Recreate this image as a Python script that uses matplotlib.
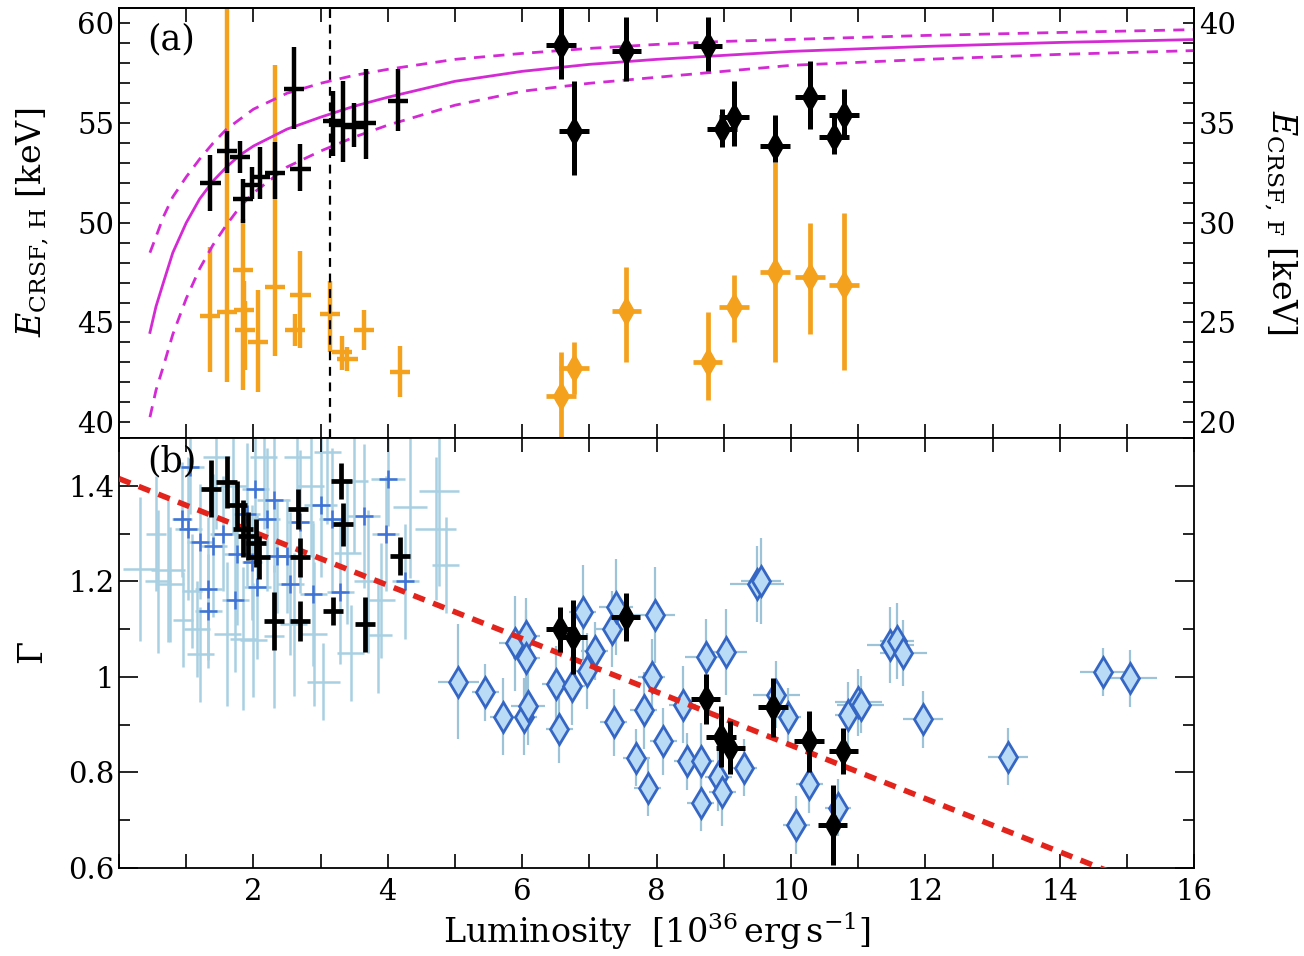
import matplotlib
matplotlib.use('Agg')
import matplotlib.pyplot as plt
from matplotlib.ticker import MultipleLocator, FuncFormatter

plt.rcParams['font.family'] = ['DejaVu Serif']
plt.rcParams['mathtext.fontset'] = 'dejavuserif'

# ---------------- data: panel (a) ----------------
# black, E_CRSF,H (left axis), low luminosity (no markers)
hl_x   = [1.36, 1.61, 1.80, 1.85, 1.98, 2.10, 2.32, 2.60, 2.70, 3.19, 3.34, 3.49, 3.67, 4.15]
hl_E   = [52.0, 53.6, 53.3, 51.2, 51.9, 52.3, 52.5, 56.7, 52.7, 55.1, 54.9, 54.8, 55.0, 56.1]
hl_lo  = [1.4, 1.1, 0.8, 1.2, 0.7, 1.1, 1.3, 2.0, 1.1, 1.75, 1.85, 1.0, 1.8, 1.5]
hl_hi  = [1.4, 1.0, 0.8, 1.0, 0.9, 1.5, 1.55, 2.1, 1.25, 1.5, 2.2, 1.2, 2.7, 1.6]
hl_xe  = [0.15, 0.15, 0.15, 0.15, 0.15, 0.15, 0.15, 0.15, 0.15, 0.15, 0.15, 0.15, 0.15, 0.15]
# black, E_CRSF,H, high luminosity (diamonds)
hh_x   = [6.58, 6.77, 7.55, 8.76, 8.97, 9.15, 9.76, 10.28, 10.64, 10.79]
hh_E   = [58.9, 54.6, 58.6, 58.85, 54.7, 55.3, 53.85, 56.3, 54.3, 55.4]
hh_lo  = [1.7, 2.2, 1.5, 1.25, 0.9, 1.45, 0.8, 1.6, 0.85, 1.2]
hh_hi  = [2.1, 2.5, 1.75, 1.5, 1.0, 1.8, 1.55, 1.8, 1.1, 1.3]
hh_xe  = [0.22, 0.22, 0.22, 0.22, 0.22, 0.22, 0.22, 0.22, 0.22, 0.22]
# orange, E_CRSF,F (right axis), low luminosity
fl_x   = [1.35, 1.61, 1.84, 1.86, 1.88, 2.07, 2.32, 2.62, 2.70, 3.14, 3.32, 3.40, 3.64, 4.18]
fl_E   = [25.3, 25.5, 27.65, 25.6, 24.6, 24.0, 26.8, 24.6, 26.4, 25.4, 23.5, 23.15, 24.6, 22.5]
fl_lo  = [2.8, 3.5, 6.05, 2.5, 2.0, 2.5, 3.5, 0.8, 2.7, 1.9, 0.9, 0.6, 1.0, 1.25]
fl_hi  = [3.5, 16.0, 2.55, 1.5, 1.5, 2.65, 11.1, 0.8, 2.2, 1.7, 0.8, 0.6, 1.0, 1.3]
fl_xe  = [0.15, 0.15, 0.15, 0.15, 0.15, 0.15, 0.15, 0.15, 0.15, 0.15, 0.15, 0.15, 0.15, 0.15]
# orange, E_CRSF,F, high luminosity (diamonds)
fh_x   = [6.58, 6.77, 7.55, 8.76, 9.15, 9.76, 10.28, 10.79]
fh_E   = [21.3, 22.7, 25.55, 23.0, 25.8, 27.55, 27.3, 26.9]
fh_lo  = [2.5, 1.3, 2.55, 1.9, 1.8, 4.55, 2.9, 4.3]
fh_hi  = [2.2, 1.3, 2.25, 2.5, 1.6, 5.5, 2.7, 3.6]
fh_xe  = [0.22, 0.22, 0.22, 0.22, 0.22, 0.22, 0.22, 0.22]
# model curve (magenta) and its uncertainty band
mod_x  = [0.46, 0.55, 0.66, 0.80, 1.0, 1.2, 1.4, 1.6, 1.8, 2.0, 2.5, 3.0, 3.5, 4.0, 5.0, 6.0, 7.0, 8.0, 9.0, 10.0, 12.0, 14.0, 16.1]
mod_E  = [44.5, 45.8, 47.0, 48.5, 50.0, 51.2, 52.1, 52.8, 53.4, 53.85, 54.7, 55.3, 55.85, 56.3, 57.1, 57.6, 57.95, 58.2, 58.4, 58.6, 58.85, 59.05, 59.2]
up_E   = [48.5, 49.3, 50.3, 51.3, 52.3, 53.2, 54.0, 54.7, 55.2, 55.7, 56.5, 57.0, 57.4, 57.7, 58.2, 58.5, 58.75, 58.95, 59.1, 59.2, 59.4, 59.55, 59.7]
lo_E   = [40.25, 41.6, 42.8, 44.4, 46.2, 47.7, 48.9, 49.9, 50.8, 51.5, 52.8, 53.6, 54.3, 54.9, 55.9, 56.6, 57.0, 57.3, 57.6, 57.9, 58.2, 58.45, 58.65]
vline_x = 3.14

# ---------------- data: panel (b) ----------------
# light-blue points with blue cross centres
bc_x  = [1.06, 0.94, 1.03, 1.21, 1.40, 1.33, 1.33, 1.73, 1.76, 1.98, 2.03, 2.06, 2.30, 2.35, 2.50, 2.55, 2.70, 2.89, 3.00, 3.17, 3.29, 3.64, 3.97, 4.00, 4.26, 1.55, 2.20, 1.90]
bc_g  = [1.44, 1.33, 1.31, 1.283, 1.275, 1.185, 1.138, 1.16, 1.258, 1.24, 1.394, 1.188, 1.37, 1.253, 1.253, 1.195, 1.325, 1.173, 1.36, 1.33, 1.178, 1.337, 1.30, 1.415, 1.20, 1.30, 1.33, 1.34]
bc_xe = [0.2, 0.15, 0.2, 0.2, 0.2, 0.2, 0.2, 0.2, 0.2, 0.15, 0.2, 0.2, 0.25, 0.2, 0.2, 0.2, 0.2, 0.2, 0.25, 0.2, 0.2, 0.25, 0.2, 0.25, 0.2, 0.2, 0.2, 0.2]
bc_ye = [0.1, 0.12, 0.15, 0.12, 0.15, 0.15, 0.12, 0.15, 0.15, 0.12, 0.15, 0.15, 0.15, 0.12, 0.12, 0.15, 0.15, 0.15, 0.15, 0.15, 0.15, 0.15, 0.12, 0.1, 0.12, 0.12, 0.15, 0.15]
# light-blue points without centre marks
lb_x  = [0.31, 0.58, 0.73, 0.76, 1.09, 1.16, 1.21, 1.61, 1.85, 2.00, 2.30, 2.60, 3.04, 3.86, 4.33, 4.71, 4.76, 4.86, 3.45, 2.90, 0.95, 3.70, 2.15, 2.65, 3.10, 1.45, 3.40, 2.85, 3.50, 1.70, 0.55, 3.90]
lb_g  = [1.226, 1.20, 1.224, 1.194, 1.18, 1.10, 1.047, 1.09, 1.08, 1.077, 1.085, 1.11, 0.99, 1.087, 1.356, 1.31, 1.39, 1.234, 1.05, 1.09, 1.12, 1.20, 1.46, 1.46, 1.47, 1.46, 1.26, 1.40, 1.41, 1.40, 1.30, 1.16]
lb_xe = [0.25, 0.2, 0.25, 0.2, 0.15, 0.2, 0.2, 0.2, 0.2, 0.2, 0.15, 0.2, 0.25, 0.2, 0.25, 0.3, 0.3, 0.2, 0.2, 0.2, 0.15, 0.2, 0.2, 0.2, 0.2, 0.2, 0.2, 0.2, 0.2, 0.2, 0.15, 0.2]
lb_ye = [0.15, 0.15, 0.15, 0.12, 0.12, 0.1, 0.1, 0.15, 0.15, 0.12, 0.15, 0.15, 0.08, 0.12, 0.15, 0.15, 0.2, 0.1, 0.1, 0.15, 0.1, 0.15, 0.15, 0.15, 0.15, 0.15, 0.15, 0.15, 0.15, 0.1, 0.12, 0.12]
# blue diamonds
bd_x  = [5.05, 5.45, 5.72, 5.90, 6.06, 6.06, 6.02, 6.09, 6.50, 6.55, 6.74, 6.90, 6.96, 7.08, 7.33, 7.36, 7.40, 7.70, 7.81, 7.87, 7.93, 7.97, 8.10, 8.39, 8.46, 8.66, 8.66, 8.73, 8.92, 8.98, 9.04, 9.30, 9.49, 9.55, 9.78, 9.95, 10.08, 10.27, 10.70, 10.85, 11.00, 11.04, 11.48, 11.58, 11.67, 11.97, 13.23, 14.65, 15.05]
bd_g  = [0.99, 0.968, 0.917, 1.07, 1.085, 1.04, 0.917, 0.938, 0.985, 0.89, 0.98, 1.135, 1.012, 1.054, 1.10, 0.905, 1.146, 0.831, 0.93, 0.768, 1.0, 1.13, 0.865, 0.942, 0.823, 0.823, 0.737, 1.041, 0.79, 0.758, 1.052, 0.81, 1.195, 1.20, 0.963, 0.917, 0.69, 0.775, 0.726, 0.92, 0.947, 0.942, 1.067, 1.075, 1.05, 0.911, 0.833, 1.01, 0.997]
bd_xe = [0.3, 0.2, 0.2, 0.25, 0.2, 0.2, 0.2, 0.25, 0.2, 0.2, 0.2, 0.2, 0.2, 0.2, 0.25, 0.2, 0.25, 0.2, 0.2, 0.2, 0.2, 0.3, 0.2, 0.2, 0.2, 0.2, 0.2, 0.3, 0.2, 0.2, 0.3, 0.2, 0.4, 0.3, 0.35, 0.2, 0.2, 0.2, 0.2, 0.2, 0.35, 0.35, 0.35, 0.25, 0.35, 0.3, 0.3, 0.35, 0.4]
bd_ye = [0.12, 0.06, 0.08, 0.1, 0.08, 0.1, 0.08, 0.08, 0.08, 0.07, 0.08, 0.1, 0.08, 0.06, 0.08, 0.07, 0.1, 0.06, 0.08, 0.06, 0.08, 0.1, 0.07, 0.08, 0.06, 0.08, 0.06, 0.08, 0.07, 0.07, 0.09, 0.06, 0.08, 0.09, 0.07, 0.06, 0.06, 0.06, 0.06, 0.07, 0.07, 0.06, 0.08, 0.08, 0.07, 0.06, 0.06, 0.05, 0.06]
# black, Gamma, low luminosity
gl_x  = [1.37, 1.60, 1.75, 1.84, 1.92, 2.04, 2.09, 2.31, 2.66, 2.69, 2.69, 3.18, 3.31, 3.33, 3.66, 4.18]
gl_g  = [1.394, 1.408, 1.36, 1.31, 1.295, 1.28, 1.25, 1.117, 1.352, 1.25, 1.117, 1.138, 1.41, 1.32, 1.11, 1.253]
gl_ye = [0.06, 0.055, 0.05, 0.06, 0.05, 0.05, 0.045, 0.06, 0.042, 0.04, 0.042, 0.03, 0.038, 0.045, 0.058, 0.04]
gl_xe = [0.15, 0.15, 0.15, 0.15, 0.15, 0.15, 0.15, 0.15, 0.15, 0.15, 0.15, 0.15, 0.15, 0.15, 0.15, 0.15]
# black, Gamma, high luminosity (diamonds)
gh_x  = [6.57, 6.75, 7.54, 8.73, 8.96, 9.10, 9.73, 10.27, 10.78, 10.62]
gh_g  = [1.10, 1.083, 1.125, 0.953, 0.875, 0.852, 0.936, 0.865, 0.844, 0.69]
gh_ye = [0.047, 0.077, 0.05, 0.052, 0.063, 0.055, 0.062, 0.064, 0.048, 0.083]
gh_xe = [0.22, 0.22, 0.22, 0.22, 0.22, 0.22, 0.22, 0.22, 0.22, 0.22]
# linear fit (red dashed)
fit_x = [0.0, 16.0]
fit_g = [1.415, 0.522]

# ---------------- styling ----------------
ORANGE = '#f4a11d'
MAGENTA = '#d42ad4'
LIGHT = '#a8d0e2'
BLUE = '#3f73d6'
DIAM_FC = '#b9dbf6'
DIAM_EC = '#3566c4'
RED = '#e3241c'
FS = 21
LFS = 24

fig = plt.figure(figsize=(13.04, 9.56), dpi=100)
L, W = 0.0913, 0.8244
ax1 = fig.add_axes([L, 0.5418, W, 0.4503])
ax2 = fig.add_axes([L, 0.0921, W, 0.4497])
ax1r = ax1.twinx()
ax1r.set_zorder(ax1.get_zorder() - 1)
ax1.patch.set_visible(False)

# ---- panel (a) ----
ax1.plot(mod_x, mod_E, color=MAGENTA, lw=2.0, zorder=2)
ax1.plot(mod_x, up_E, color=MAGENTA, lw=2.0, ls=(0, (4, 3)), zorder=2)
ax1.plot(mod_x, lo_E, color=MAGENTA, lw=2.0, ls=(0, (4, 3)), zorder=2)
ax1.axvline(vline_x, color='black', lw=1.6, ls=(0, (4, 3)), zorder=1)

ax1r.errorbar(fl_x, fl_E, yerr=[fl_lo, fl_hi], xerr=fl_xe, fmt='none',
              ecolor=ORANGE, elinewidth=3.2, capsize=0)
ax1r.errorbar(fh_x, fh_E, yerr=[fh_lo, fh_hi], xerr=fh_xe, fmt='d',
              color=ORANGE, ms=14, ecolor=ORANGE, elinewidth=3.4, capsize=0)

ax1.errorbar(hl_x, hl_E, yerr=[hl_lo, hl_hi], xerr=hl_xe, fmt='none',
             ecolor='black', elinewidth=3.2, capsize=0, zorder=3)
ax1.errorbar(hh_x, hh_E, yerr=[hh_lo, hh_hi], xerr=hh_xe, fmt='d',
             color='black', ms=14, ecolor='black', elinewidth=3.6, capsize=0, zorder=3)

ax1.set_xlim(0, 16)
ax1.set_ylim(39.2, 60.8)
ax1r.set_ylim(19.2, 40.8)
ax1.text(0.026, 0.965, '(a)', transform=ax1.transAxes, fontsize=25, va='top', ha='left')

# ---- panel (b) ----
ax2.errorbar(lb_x, lb_g, yerr=lb_ye, xerr=lb_xe, fmt='none', ecolor=LIGHT,
             elinewidth=1.8, capsize=0, zorder=1)
ax2.errorbar(bc_x, bc_g, yerr=bc_ye, xerr=bc_xe, fmt='none', ecolor=LIGHT,
             elinewidth=1.8, capsize=0, zorder=1)
ax2.plot(bc_x, bc_g, '+', color=BLUE, ms=13, mew=1.8, zorder=2)
ax2.errorbar(bd_x, bd_g, yerr=bd_ye, xerr=bd_xe, fmt='none', ecolor='#9cc3d8',
             elinewidth=1.6, capsize=0, zorder=2)
ax2.plot(bd_x, bd_g, 'd', ms=15, mfc=DIAM_FC, mec=DIAM_EC, mew=2.0, zorder=3)
ax2.plot(fit_x, fit_g, color=RED, lw=4, ls=(0, (2.2, 1.6)), zorder=4)
ax2.errorbar(gl_x, gl_g, yerr=gl_ye, xerr=gl_xe, fmt='none', ecolor='black',
             elinewidth=3.4, capsize=0, zorder=5)
ax2.errorbar(gh_x, gh_g, yerr=gh_ye, xerr=gh_xe, fmt='d', color='black', ms=14,
             ecolor='black', elinewidth=3.6, capsize=0, zorder=5)
ax2.set_xlim(0, 16)
ax2.set_ylim(0.6, 1.5)
ax2.text(0.026, 0.985, '(b)', transform=ax2.transAxes, fontsize=25, va='top', ha='left')

# ---- ticks ----
for a in (ax1, ax2):
    a.xaxis.set_major_locator(MultipleLocator(2))
    a.xaxis.set_minor_locator(MultipleLocator(1))
    a.tick_params(axis='x', which='both', direction='in', top=True, bottom=True,
                  length=10, width=1.2, labelsize=FS, pad=7)
    for s in a.spines.values():
        s.set_linewidth(1.3)
ax1.tick_params(axis='x', labelbottom=False)
ax2.xaxis.set_major_formatter(FuncFormatter(lambda v, p: '' if abs(v) < 1e-9 else '%d' % round(v)))
ax1.yaxis.set_major_locator(MultipleLocator(5))
ax1.yaxis.set_minor_locator(MultipleLocator(1))
ax1.tick_params(axis='y', which='both', direction='in', length=8, width=1.2, labelsize=FS, right=False)
ax1r.yaxis.set_major_locator(MultipleLocator(5))
ax1r.yaxis.set_minor_locator(MultipleLocator(1))
ax1r.tick_params(axis='y', which='both', direction='in', length=8, width=1.2, labelsize=FS)
for s in ax1r.spines.values():
    s.set_linewidth(1.3)

ax2.yaxis.set_major_locator(MultipleLocator(0.2))
ax2.yaxis.set_minor_locator(MultipleLocator(0.1))
ax2.yaxis.set_major_formatter(FuncFormatter(lambda v, p: '%g' % round(v, 2)))
ax2.tick_params(axis='y', which='major', direction='in', length=14, width=1.2,
                labelsize=FS, left=True, right=True)
ax2.tick_params(axis='y', which='minor', direction='in', length=8, width=1.2,
                left=True, right=True)

# ---- labels ----
ax1.set_ylabel(r'$E_{\mathrm{CRSF,\,H}}$ [keV]', fontsize=LFS)
ax1.yaxis.set_label_coords(-0.063, 0.5)
ax1r.set_ylabel(r'$E_{\mathrm{CRSF,\,F}}$ [keV]', fontsize=LFS, rotation=270, va='bottom')
ax1r.yaxis.set_label_coords(1.063, 0.5)
ax2.set_ylabel(r'$\Gamma$', fontsize=LFS)
ax2.yaxis.set_label_coords(-0.064, 0.5)
ax2.set_xlabel(r'Luminosity  $[10^{36}\,\mathrm{erg\,s^{-1}}]$', fontsize=LFS)
ax2.xaxis.set_label_coords(0.5, -0.1)

fig.savefig('out.png', dpi=100)
